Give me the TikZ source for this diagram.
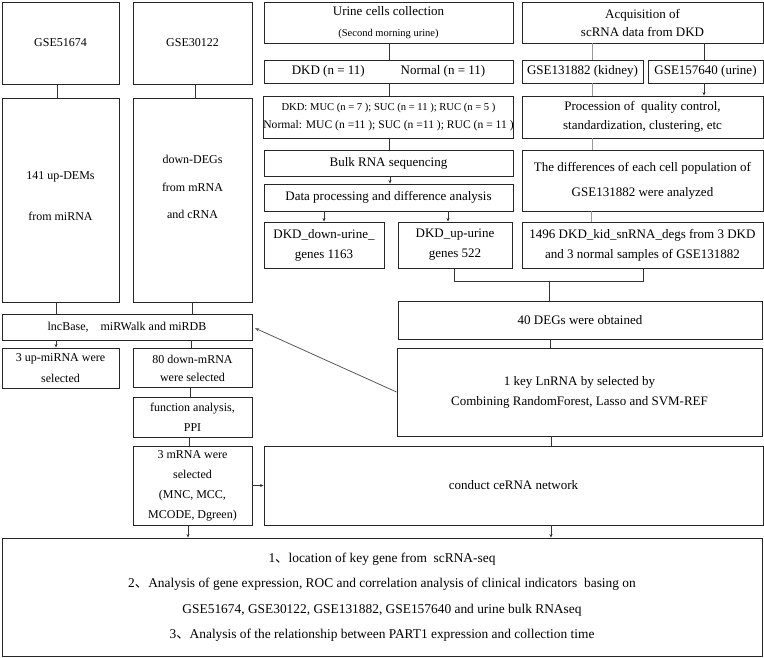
\documentclass[tikz,border=0pt]{standalone}
\usepackage{fontspec}
\setmainfont{Liberation Serif}
\newfontfamily\cjk{Noto Sans CJK SC}
\usetikzlibrary{arrows.meta}
\newcommand\fsz[2]{\fontsize{#1}{#2}\selectfont}
\begin{document}
\begin{tikzpicture}[x=1pt,y=-1pt,
  box/.style={draw=black!85, line width=0.9pt, inner sep=0pt, align=center, font=\fsz{13}{20}},
  lbox/.style={box, font=\fsz{12}{20}},
  wh/.style 2 args={minimum width=#1pt, minimum height=#2pt},
  ln/.style={draw=black!80, line width=0.8pt},
  lng/.style={draw=black!40, line width=0.8pt},
  arr/.style={ln, -{Stealth[length=3.5pt,width=3pt]}},
  arrg/.style={draw=black!65, line width=0.8pt, -{Stealth[length=4pt,width=3.5pt]}}
]
\useasboundingbox[fill=white] (0,0) rectangle (764,657);

% left columns
\node[lbox, wh={117}{82}] (g51) at (60.5,43) {GSE51674};
\node[lbox, wh={119}{82}] (g30) at (192.5,43) {GSE30122};
\node[lbox, wh={117}{204}, font=\fsz{12}{41}] (up141) at (60.5,200) {141 up-DEMs\\from miRNA\\[-33pt]};
\node[lbox, wh={119}{204}, font=\fsz{12}{27.5}] (down) at (192.5,200) {down-DEGs\\from mRNA\\and cRNA\\[-1.5pt]};
\node[lbox, wh={250}{26}] (lnc) at (127,327) {lncBase,\hspace{12pt}miRWalk and miRDB};
\node[lbox, wh={117}{40}, font=\fsz{12}{21}] (up3) at (60.5,368) {3 up-miRNA were\\selected};
\node[lbox, wh={119}{39}, font=\fsz{12}{18}] (down80) at (192.5,368) {80 down-mRNA\\were selected};
\node[lbox, wh={119}{40}, font=\fsz{12}{20}] (func) at (192.5,417) {function analysis,\\PPI};
\node[lbox, wh={119}{79}, font=\fsz{12}{20}] (mrna3) at (192.5,485.5) {3 mRNA were\\selected\\(MNC, MCC,\\MCODE, Dgreen)};

% middle column
\node[box, wh={249}{41}] (urine) at (388.5,22.5) {Urine cells collection\\[1pt]{\fsz{10.5}{13}(Second morning urine)}};
\node[box, wh={249}{23}] (dkd) at (388.5,71.5) {DKD (n = 11)\hspace{36pt}Normal (n = 11)};
\node[box, wh={249}{42}, font=\fsz{10.6}{18}] (muc) at (388.5,117) {DKD: MUC (n = 7 ); SUC (n = 11 ); RUC (n = 5 )\\{\fsz{11.6}{18}Normal: MUC (n =11 ); SUC (n =11 ); RUC (n = 11 )}};
\node[box, wh={249}{26}] (bulk) at (388.5,163) {Bulk RNA sequencing};
\node[box, wh={249}{27}] (data) at (388.5,197.5) {Data processing and difference analysis};
\node[box, wh={120}{46}] (dkddown) at (324,245) {DKD\_down-urine\_\\genes 1163};
\node[box, wh={114}{46}] (dkdup) at (455,245) {DKD\_up-urine\\genes 522};

% right column
\node[box, wh={241}{41}, font=\fsz{13}{18}] (acq) at (642.5,22.5) {Acquisition of\\scRNA data from DKD};
\node[box, wh={121}{23}] (g131) at (582.5,71.5) {GSE131882 (kidney)};
\node[box, wh={115}{23}] (g157) at (705.5,71.5) {GSE157640 (urine)};
\node[box, wh={241}{42}, font=\fsz{13}{19}] (proc) at (642.5,117) {Procession of\ \ quality control,\\standardization, clustering, etc};
\node[box, wh={241}{61}, font=\fsz{13}{25}] (diff) at (642.5,180.5) {The differences of each cell population of\\GSE131882 were analyzed};
\node[box, wh={241}{46}] (k1496) at (642.5,245) {1496 DKD\_kid\_snRNA\_degs from 3 DKD\\and 3 normal samples of GSE131882};
\node[box, wh={364}{38}] (deg40) at (580,320) {40 DEGs were obtained};
\node[box, wh={365}{88}] (key) at (579.5,392) {1 key LnRNA by selected by\\Combining RandomForest, Lasso and SVM-REF};
\node[box, wh={499}{79}] (cerna) at (513.5,485.5) {conduct ceRNA network};

% final
\node[box, wh={760}{118}, font=\fsz{13.4}{25.5}] (final) at (382,597) {1{\cjk 、}location of key gene from\ \ scRNA-seq\\2{\cjk 、}Analysis of gene expression, ROC and correlation analysis of clinical indicators\ \ basing on\\GSE51674, GSE30122, GSE131882, GSE157640 and urine bulk RNAseq\\3{\cjk 、}Analysis of the relationship between PART1 expression and collection time};

% connectors left
\draw[ln] (g51.south -| 57,0) -- (up141.north -| 57,0);
\draw[ln] (g30.south -| 195,0) -- (down.north -| 195,0);
\draw[ln] (up141.south -| 56,0) -- (lnc.north -| 56,0);
\draw[ln] (down.south -| 192,0) -- (lnc.north -| 192,0);
\draw[arr] (lnc.south -| 56,0) -- (up3.north -| 56,0);
\draw[ln] (lnc.south -| 191,0) -- (down80.north -| 191,0);
\draw[ln] (down80.south -| 190,0) -- (func.north -| 190,0);
\draw[ln] (func.south -| 189,0) -- (mrna3.north -| 189,0);
\draw[arr] (mrna3.south -| 188,0) -- (final.north -| 188,0);
\draw[arr] (mrna3.east) -- (cerna.west);

% connectors middle
\draw[ln] (urine.south -| 389,0) -- (dkd.north -| 389,0);
\draw[ln] (dkd.south -| 389,0) -- (muc.north -| 389,0);
\draw[ln] (muc.south -| 389,0) -- (bulk.north -| 389,0);
\draw[arr] (bulk.south -| 390,0) -- (data.north -| 390,0);
\draw[arr] (data.south -| 324,0) -- (dkddown.north -| 324,0);
\draw[arr] (data.south -| 448,0) -- (dkdup.north -| 448,0);

% connectors right
\draw[lng] (acq.south -| 592,0) -- (g131.north -| 592,0);
\draw[ln] (acq.south -| 704,0) -- (g157.north -| 704,0);
\draw[lng] (g131.south -| 592,0) -- (proc.north -| 592,0);
\draw[arr] (g157.south -| 704,0) -- (proc.north -| 704,0);
\draw[lng] (proc.south -| 592,0) -- (diff.north -| 592,0);
\draw[lng] (diff.south -| 591,0) -- (k1496.north -| 591,0);

\coordinate (bl) at (454,281);
\coordinate (br) at (643,281);
\coordinate (bm) at (549,281);
\draw[ln] (dkdup.south -| bl) -- (bl) -- (br) -- (k1496.south -| br);
\draw[ln] (bm) -- (deg40.north -| bm);
\draw[ln] (deg40.south -| 550,0) -- (key.north -| 550,0);
\draw[ln] (key.south -| 551,0) -- (cerna.north -| 551,0);
\draw[arr] (cerna.south -| 551,0) -- (final.north -| 551,0);
\draw[arrg, shorten >=3pt] (key.west) -- (lnc.east);
\end{tikzpicture}
\end{document}
